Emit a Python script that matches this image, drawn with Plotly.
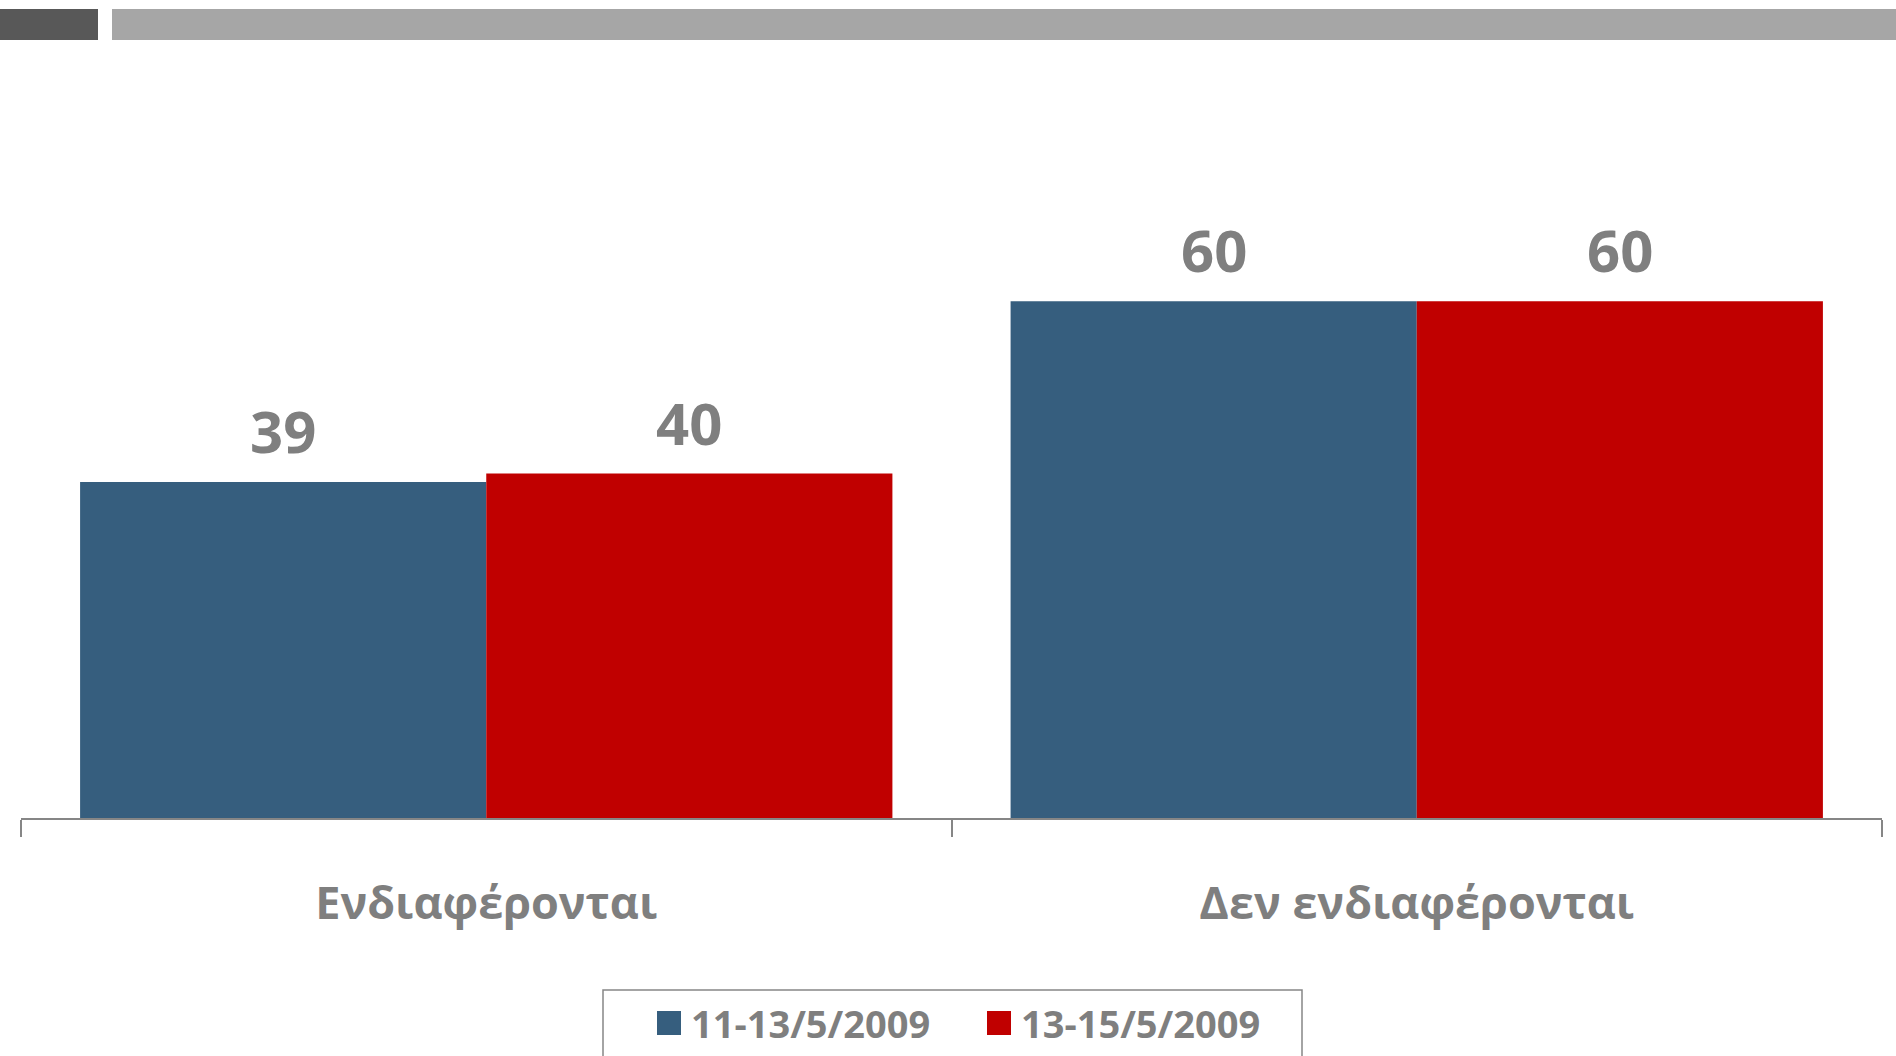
import plotly.graph_objects as go

# ---- data ----
categories = ["Ενδιαφέρονται", "Δεν ενδιαφέρονται"]
series_names = ["11-13/5/2009", "13-15/5/2009"]
values_1 = [39, 60]
values_2 = [40, 60]

# ---- style ----
colors = ["#365E7E", "#C00000"]
text_gray = "#7F7F7F"
axis_gray = "#868686"
FONT = "Open Sans"

W_PX, H_PX = 1896, 1056
L, R, T, B = 21, 14, 129, 238
PW = W_PX - L - R
PH = H_PX - T - B


def px2x(px):
    return (px - L) / PW


def px2y(py):
    return (H_PX - B - py) / PH


fig = go.Figure()
all_values = [values_1, values_2]
for name, vals, col in zip(series_names, all_values, colors):
    fig.add_trace(go.Bar(
        x=categories, y=vals, name=name, marker=dict(color=col, line=dict(width=0)),
        showlegend=False,
    ))

# value labels above bars
bar_w_px = PW / len(categories) * (1 - 0.127) / len(series_names)
annotations = []
for i, vals in enumerate(all_values):
    shift = (i - (len(series_names) - 1) / 2) * bar_w_px
    for c, v in zip(categories, vals):
        annotations.append(dict(
            x=c, y=v, xref="x", yref="y", text=f"<b>{v}</b>", showarrow=False,
            xshift=shift, yshift=10, yanchor="bottom",
            font=dict(family=FONT, size=58, color=text_gray),
        ))

# manual legend
leg_swatch_x = [657, 987]
leg_text_x = [689, 1019]
leg_cy = 1023
shapes = []
for name, col, sx, tx in zip(series_names, colors, leg_swatch_x, leg_text_x):
    shapes.append(dict(type="rect", xref="paper", yref="paper",
                       x0=px2x(sx), x1=px2x(sx + 24), y0=px2y(leg_cy + 12), y1=px2y(leg_cy - 12),
                       fillcolor=col, line=dict(width=0)))
    annotations.append(dict(x=px2x(tx), y=px2y(leg_cy), xref="paper", yref="paper",
                            text=f"<b>{name}</b>", showarrow=False, xanchor="left", yanchor="middle",
                            font=dict(family=FONT, size=38, color=text_gray)))
# legend frame
shapes.append(dict(type="rect", xref="paper", yref="paper",
                   x0=px2x(603), x1=px2x(1302), y0=px2y(1120), y1=px2y(990),
                   line=dict(color=axis_gray, width=1.5), fillcolor="rgba(0,0,0,0)"))
# header bars
shapes.append(dict(type="rect", xref="paper", yref="paper",
                   x0=px2x(0), x1=px2x(98), y0=px2y(40), y1=px2y(9),
                   fillcolor="#585858", line=dict(width=0)))
shapes.append(dict(type="rect", xref="paper", yref="paper",
                   x0=px2x(112), x1=px2x(1900), y0=px2y(40), y1=px2y(9),
                   fillcolor="#A6A6A6", line=dict(width=0)))

fig.update_layout(
    width=W_PX, height=H_PX, autosize=False,
    margin=dict(l=L, r=R, t=T, b=B, pad=0),
    paper_bgcolor="white", plot_bgcolor="white",
    barmode="group", bargap=0.127, bargroupgap=0,
    showlegend=False,
    annotations=annotations, shapes=shapes,
    font=dict(family=FONT, color=text_gray),
)
fig.update_xaxes(
    showline=True, linecolor=axis_gray, linewidth=2,
    ticks="outside", tickson="boundaries", ticklen=17, tickcolor=axis_gray, tickwidth=2,
    tickfont=dict(family=FONT, size=45, color=text_gray),
    tickprefix="<b>", ticksuffix="</b>", ticklabelstandoff=45,
    showgrid=False, zeroline=False,
)
fig.update_yaxes(range=[0, 80], visible=False, showgrid=False, zeroline=False)

fig.write_html("out.html", config={"displayModeBar": False},
               post_script="document.body.style.margin='0';document.body.style.overflow='hidden';")
